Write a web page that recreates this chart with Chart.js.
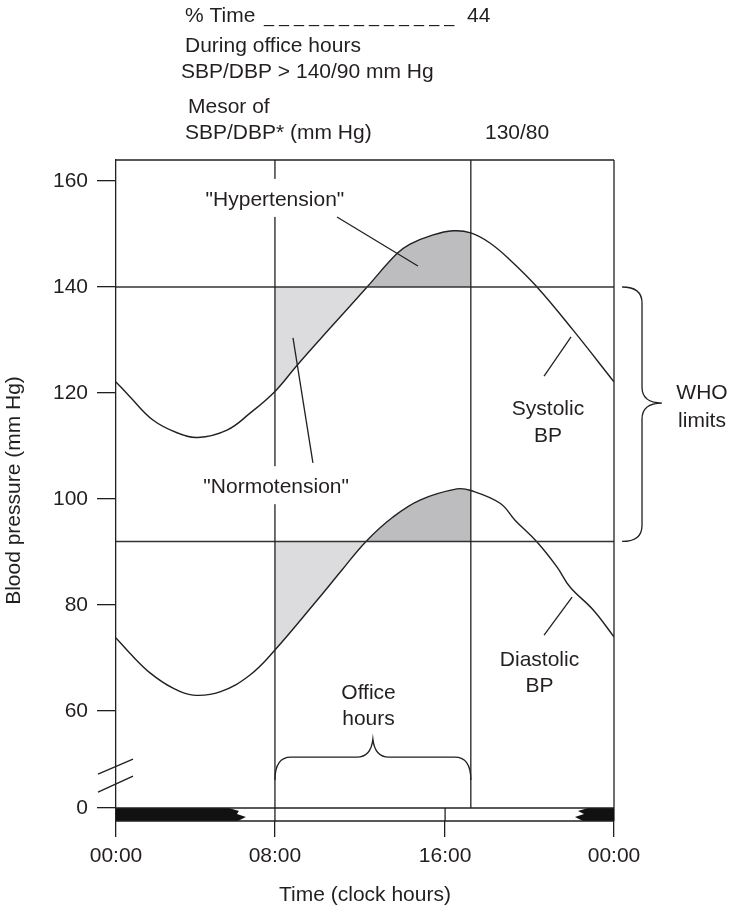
<!DOCTYPE html>
<html lang="en">
<head>
<meta charset="UTF-8">
<title>Office hours blood pressure</title>
<script src="https://cdn.jsdelivr.net/npm/chart.js"></script>
<style>
  html, body { margin: 0; padding: 0; background: #fff; }
  canvas { display: block; }
</style>
</head>
<body>
<canvas id="bpChart" width="729" height="908"></canvas>
<script>
// values: hours after midnight and mm Hg
const sbpHours  = [0, 0.67, 1.78, 2.94, 3.95, 5.35, 6.46, 7.66, 8.72, 10.31, 12.1, 13.54, 14.17, 15.18, 16.24, 17.1, 18.02, 18.99, 20.29, 22.02, 24];
const sbpValues = [122.1, 119.3, 114.9, 112.5, 111.6, 113.0, 116.2, 120.3, 125.2, 132.2, 140, 146.3, 148.1, 149.7, 150.6, 150.2, 148.3, 145.1, 140.0, 131.9, 122.1];
const dbpHours  = [0, 0.67, 1.64, 2.75, 3.71, 5.01, 6.46, 7.66, 9.69, 10.89, 12.05, 13.35, 14.65, 16.43, 17.1, 18.51, 19.23, 20.29, 21.25, 21.88, 22.99, 24];
const dbpValues = [73.8, 70.9, 67.2, 64.3, 63.0, 63.6, 66.8, 71.5, 80.9, 86.6, 92, 96.6, 99.8, 101.9, 101.6, 99.2, 96.0, 91.9, 87.2, 83.4, 79.1, 74.0];

const limits = [140, 92];              // the two limit lines as drawn
const officeHours = [7.66, 17.1];      // start / end of office hours
const nightSpans = [[0, 6.02], [22.36, 24]];
const hourTicks = [0, 7.66, 15.86, 24];
const hourLabels = ['00:00', '08:00', '16:00', '00:00'];
const yTicks = [0, 60, 80, 100, 120, 140, 160];
const zeroDrawnAt = 41.7;              // broken axis: "0" sits here

const ink = '#231f20';
const lightFill = '#dcdcde';
const darkFill = '#bdbdc0';
const fontFamily = '"Liberation Sans", Arial, sans-serif';
const font21 = '21px ' + fontFamily;

const pts = (xs, ys) => xs.map((h, i) => ({ x: h, y: ys[i] }));

// shade only inside office hours, light below the limit, dark above it
const officeShade = limit => c => {
  const x0 = c.p0.parsed.x, x1 = c.p1.parsed.x;
  if (x0 < officeHours[0] - 1e-6 || x1 > officeHours[1] + 1e-6) return 'rgba(0,0,0,0)';
  return (c.p0.parsed.y + c.p1.parsed.y) / 2 > limit ? darkFill : lightFill;
};

function curve(xs, ys, limit) {
  return {
    data: pts(xs, ys),
    borderColor: ink,
    borderWidth: 1.4,
    pointRadius: 0,
    tension: 0.4,
    fill: { target: { value: limit } },
    backgroundColor: 'rgba(0,0,0,0)',
    segment: { backgroundColor: officeShade(limit) },
    order: 1
  };
}

function limitLine(v) {
  return {
    data: [{ x: 0, y: v }, { x: 24, y: v }],
    borderColor: '#333',
    borderWidth: 1.5,
    pointRadius: 0,
    fill: false,
    order: 0
  };
}

function stroke(ctx, x0, y0, x1, y1) {
  ctx.beginPath();
  ctx.moveTo(x0, y0);
  ctx.lineTo(x1, y1);
  ctx.stroke();
}

function text(ctx, str, x, y, align, bg) {
  ctx.font = font21;
  ctx.textAlign = align || 'left';
  ctx.textBaseline = 'alphabetic';
  if (bg) {
    const w = ctx.measureText(str).width;
    const left = align === 'center' ? x - w / 2 : x;
    ctx.fillStyle = '#fff';
    ctx.fillRect(left - 3, y - 27, w + 6, 38);
  }
  ctx.fillStyle = ink;
  ctx.fillText(str, x, y);
}

const figurePlugin = {
  id: 'figure',
  afterDatasetsDraw(chart) {
    const { ctx, chartArea: a, scales: { x, y } } = chart;
    const px = h => x.getPixelForValue(h);
    const py = v => y.getPixelForValue(v);
    ctx.save();
    ctx.strokeStyle = ink;
    ctx.lineWidth = 1.3;

    // frame top and right
    stroke(ctx, a.left, a.top, a.right, a.top);
    stroke(ctx, a.right, a.top, a.right, a.bottom);

    // day / night bar
    const bt = py(zeroDrawnAt), bb = a.bottom;
    ctx.fillStyle = '#fff';
    ctx.fillRect(a.left, bt, a.right - a.left, bb - bt);
    ctx.fillStyle = '#111';
    const e = px(nightSpans[0][1]);
    ctx.beginPath();
    ctx.moveTo(px(nightSpans[0][0]), bt);
    ctx.lineTo(e - 12, bt);
    ctx.lineTo(e - 2, bt + 3);
    ctx.lineTo(e - 4, bt + 6);
    ctx.lineTo(e + 5, bt + 9);
    ctx.lineTo(e - 3, bb);
    ctx.lineTo(px(nightSpans[0][0]), bb);
    ctx.closePath();
    ctx.fill();
    const s = px(nightSpans[1][0]);
    ctx.beginPath();
    ctx.moveTo(s + 8, bt);
    ctx.lineTo(px(nightSpans[1][1]), bt);
    ctx.lineTo(px(nightSpans[1][1]), bb);
    ctx.lineTo(s + 3, bb);
    ctx.lineTo(s - 5, bt + 9);
    ctx.lineTo(s + 4, bt + 6);
    ctx.lineTo(s - 2, bt + 3);
    ctx.closePath();
    ctx.fill();
    stroke(ctx, a.left, bt, a.right, bt);
    stroke(ctx, a.left, bb, a.right, bb);
    stroke(ctx, px(hourTicks[2]), bt, px(hourTicks[2]), bb);

    // office hours verticals
    stroke(ctx, px(officeHours[0]), a.top, px(officeHours[0]), bb);
    stroke(ctx, px(officeHours[1]), a.top, px(officeHours[1]), bt);

    // axis break
    const m = py(47.8), L = a.left;
    stroke(ctx, L - 18, m - 1.5, L + 17, m - 16.5);
    stroke(ctx, L - 18, m + 16.5, L + 17, m + 0.5);

    // labels inside the plot
    text(ctx, '"Hypertension"', px(7.66), py(155.3), 'center', true);
    stroke(ctx, px(10.65), py(153.2), px(14.55), py(143.96));
    text(ctx, '"Normotension"', px(7.72), py(101.1), 'center', true);
    stroke(ctx, px(8.53), py(130.4), px(9.49), py(106.8));

    text(ctx, 'Systolic', px(20.82), py(115.85), 'center');
    text(ctx, 'BP', px(20.82), py(110.75), 'center');
    stroke(ctx, px(20.63), py(123.2), px(21.93), py(130.57));

    text(ctx, 'Diastolic', px(20.41), py(68.5), 'center');
    text(ctx, 'BP', px(20.41), py(63.6), 'center');
    stroke(ctx, px(20.63), py(74.3), px(21.98), py(81.5));

    text(ctx, 'Office', px(12.17), py(62.3), 'center');
    text(ctx, 'hours', px(12.17), py(57.4), 'center');

    // office hours brace (opens down)
    const x0 = px(officeHours[0]), x1 = px(officeHours[1]), xm = (x0 + x1) / 2;
    const yEnd = py(47.0), yFlat = py(51.3), yTip = py(54.7);
    ctx.beginPath();
    ctx.moveTo(x0, yEnd);
    ctx.quadraticCurveTo(x0, yFlat, x0 + 16, yFlat);
    ctx.lineTo(xm - 16, yFlat);
    ctx.quadraticCurveTo(xm - 2, yFlat, xm, yTip);
    ctx.quadraticCurveTo(xm + 2, yFlat, xm + 16, yFlat);
    ctx.lineTo(x1 - 16, yFlat);
    ctx.quadraticCurveTo(x1, yFlat, x1, yEnd);
    ctx.stroke();

    // WHO limits brace on the right
    const bx0 = px(24.39), bx1 = px(25.35), bx2 = px(26.31);
    const yA = py(limits[0]), yB = py(limits[1]), yC = py(118.1);
    ctx.beginPath();
    ctx.moveTo(bx0, yA);
    ctx.quadraticCurveTo(bx1, yA, bx1, yA + 16);
    ctx.lineTo(bx1, yC - 16);
    ctx.quadraticCurveTo(bx1, yC, bx2, yC);
    ctx.quadraticCurveTo(bx1, yC, bx1, yC + 16);
    ctx.lineTo(bx1, yB - 16);
    ctx.quadraticCurveTo(bx1, yB, bx0, yB);
    ctx.stroke();
    text(ctx, 'WHO', px(28.24), py(118.9), 'center');
    text(ctx, 'limits', px(28.24), py(113.6), 'center');

    // header above the plot
    text(ctx, '% Time', 185, 22);
    ctx.font = '18px ' + fontFamily;
    ctx.fillStyle = ink;
    ctx.textAlign = 'left';
    ctx.fillText('_ _ _ _ _ _ _ _ _ _ _ _ _', 264, 22);
    text(ctx, '44', 467, 22);
    text(ctx, 'During office hours', 185, 52);
    text(ctx, 'SBP/DBP > 140/90 mm Hg', 181, 78);
    text(ctx, 'Mesor of', 188, 113);
    text(ctx, 'SBP/DBP* (mm Hg)', 185, 139);
    text(ctx, '130/80', 485, 139);

    ctx.restore();
  }
};

new Chart(document.getElementById('bpChart'), {
  type: 'line',
  data: {
    datasets: [
      limitLine(limits[0]),
      limitLine(limits[1]),
      curve(sbpHours, sbpValues, limits[0]),
      curve(dbpHours, dbpValues, limits[1])
    ]
  },
  options: {
    responsive: false,
    animation: false,
    devicePixelRatio: 1,
    layout: { padding: { top: 160, right: 115, bottom: 0, left: 0 } },
    plugins: { legend: { display: false }, tooltip: { enabled: false } },
    scales: {
      x: {
        type: 'linear',
        min: 0,
        max: 24,
        afterFit: s => { s.height = 87; },
        afterBuildTicks: s => { s.ticks = hourTicks.map(v => ({ value: v })); },
        ticks: {
          autoSkip: false,
          maxRotation: 0,
          padding: 7,
          color: ink,
          font: { family: fontFamily, size: 21 },
          callback: (v, i) => hourLabels[i]
        },
        grid: { drawOnChartArea: false, tickLength: 16, color: ink, lineWidth: 1.3 },
        border: { display: false },
        title: {
          display: true,
          text: 'Time (clock hours)',
          color: ink,
          font: { family: fontFamily, size: 21 },
          padding: { top: 0, bottom: 0 }
        }
      },
      y: {
        type: 'linear',
        min: 39.25,
        max: 163.96,
        afterFit: s => { s.width = 116; },
        afterBuildTicks: s => { s.ticks = yTicks.map(v => ({ value: v === 0 ? zeroDrawnAt : v })); },
        ticks: {
          autoSkip: false,
          padding: 9,
          color: ink,
          font: { family: fontFamily, size: 21 },
          callback: (v, i) => String(yTicks[i])
        },
        grid: { drawOnChartArea: false, tickLength: 19, color: ink, lineWidth: 1.3 },
        border: { display: true, color: ink, width: 1.3 },
        title: {
          display: true,
          text: 'Blood pressure (mm Hg)',
          color: ink,
          font: { family: fontFamily, size: 21 },
          padding: { top: 2, bottom: 0 }
        }
      }
    }
  },
  plugins: [figurePlugin]
});
</script>
</body>
</html>
